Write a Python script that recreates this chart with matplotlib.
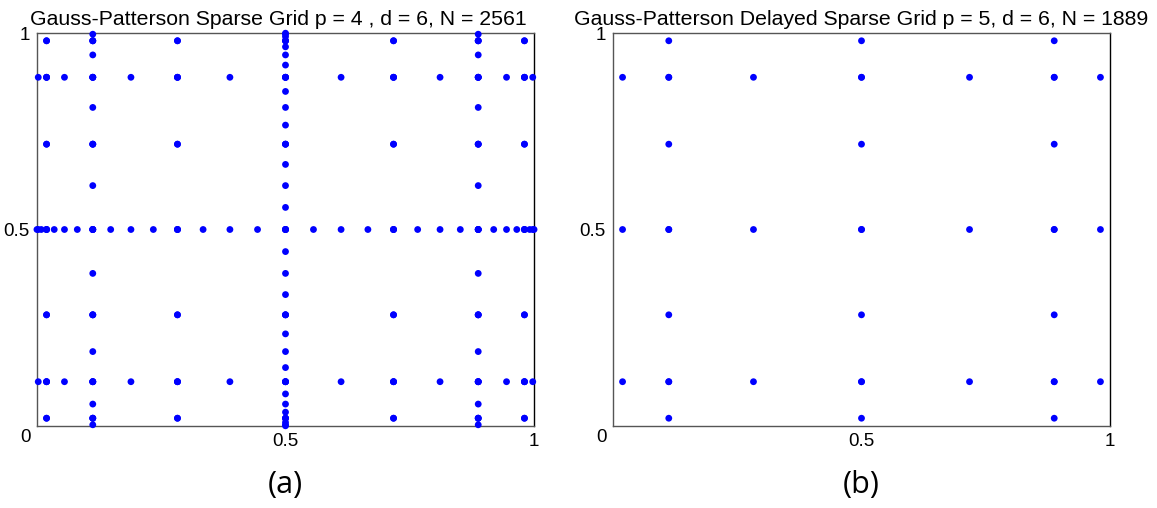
import numpy as np
import matplotlib
matplotlib.use('Agg')
import matplotlib.pyplot as plt

# node positions (Gauss-Patterson levels)
gp7 = [0.0198, 0.1127, 0.2829, 0.5, 0.7171, 0.8873, 0.9802]
gp15 = [0.0031, 0.0198, 0.0558, 0.1127, 0.1894, 0.2829, 0.3883, 0.5,
        0.6117, 0.7171, 0.8106, 0.8873, 0.9442, 0.9802, 0.9969]
gp31 = [0.0005, 0.0031, 0.0092, 0.0198, 0.0352, 0.0558, 0.0816, 0.1127,
        0.1487, 0.1894, 0.2344, 0.2829, 0.3344, 0.3883, 0.4438, 0.5,
        0.5562, 0.6117, 0.6656, 0.7171, 0.7656, 0.8106, 0.8513, 0.8873,
        0.9184, 0.9442, 0.9648, 0.9802, 0.9908, 0.9969, 0.9995]

# lines in each panel: (fixed coordinate, nodes along the line)
lines_a = [(0.5, gp31), (0.1127, gp15), (0.8873, gp15)] + [(v, gp7) for v in gp7]
lines_b = [(0.1127, gp7), (0.5, gp7), (0.8873, gp7)]

titles = ['Gauss-Patterson Sparse Grid p = 4 , d = 6, N = 2561',
          'Gauss-Patterson Delayed Sparse Grid p = 5, d = 6, N = 1889']
title_x = [0.485, 0.5]
labels = ['(a)', '(b)']

plt.rcParams['font.family'] = ['Liberation Sans', 'DejaVu Sans']

fig = plt.figure(figsize=(11.57, 5.08), dpi=100)
W, H = 1157.0, 508.0
boxes = [(36.7, 33, 497.6, 393), (612.7, 33, 497.6, 393)]

for i, lines in enumerate([lines_a, lines_b]):
    l, t, w, h = boxes[i]
    ax = fig.add_axes([l / W, 1 - (t + h) / H, w / W, h / H])
    xs, ys = [], []
    for c, nodes in lines:
        # horizontal row y=c and vertical column x=c
        xs += list(nodes) + [c] * len(nodes)
        ys += [c] * len(nodes) + list(nodes)
    ax.scatter(xs, ys, s=24, c='#0000ff', edgecolors='none', clip_on=False, zorder=3)
    ax.set_xlim(0, 1)
    ax.set_ylim(0, 1)
    ax.set_xticks([0.5, 1])
    ax.set_xticklabels(['0.5', '1'])
    ax.set_yticks([0.5, 1])
    ax.set_yticklabels(['0.5', '1'])
    ax.tick_params(length=0, labelsize=13.5, pad=5)
    ax.text(-0.023, -0.03, '0', transform=ax.transAxes, ha='center', va='center', fontsize=13.5)
    for s in ['left', 'top', 'bottom']:
        ax.spines[s].set_color('#555555')
    ax.spines['right'].set_color('black')
    for s in ax.spines.values():
        s.set_linewidth(1.0)
    ax.set_title(titles[i], fontsize=15.3, pad=6, x=title_x[i])
    ax.text(0.5, -0.15, labels[i], transform=ax.transAxes, ha='center', va='center',
            fontsize=22, family=['Open Sans', 'DejaVu Sans'])

fig.savefig('out.png', dpi=100)
